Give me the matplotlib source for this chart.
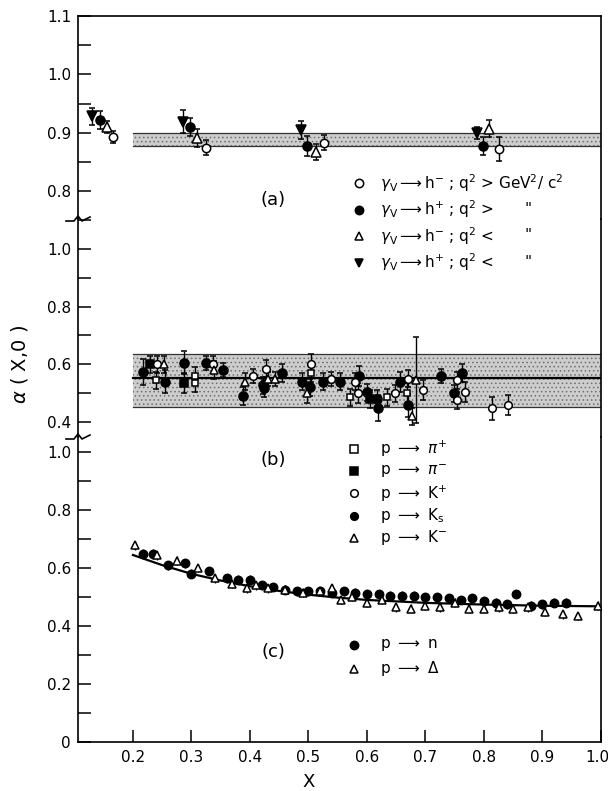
import matplotlib
matplotlib.use("Agg")
import matplotlib.pyplot as plt
from matplotlib.ticker import MultipleLocator, FuncFormatter
from matplotlib.transforms import offset_copy

plt.rcParams["font.family"] = ["DejaVu Sans"]
plt.rcParams["mathtext.fontset"] = "dejavusans"
plt.rcParams["hatch.linewidth"] = 0.6

# ---- panel (a): gamma_V -> h
a_hm_hi_x = [0.166, 0.325, 0.527, 0.826]
a_hm_hi_y = [0.893, 0.874, 0.883, 0.872]
a_hm_hi_e = [0.010, 0.013, 0.013, 0.020]
a_hp_hi_x = [0.144, 0.297, 0.497, 0.798]
a_hp_hi_y = [0.922, 0.910, 0.877, 0.877]
a_hp_hi_e = [0.016, 0.015, 0.017, 0.015]
a_hm_lo_x = [0.156, 0.309, 0.513, 0.809]
a_hm_lo_y = [0.910, 0.891, 0.867, 0.907]
a_hm_lo_e = [0.010, 0.015, 0.013, 0.014]
a_hp_lo_x = [0.130, 0.285, 0.487, 0.788]
a_hp_lo_y = [0.928, 0.919, 0.905, 0.900]
a_hp_lo_e = [0.015, 0.020, 0.015, 0.010]
a_band = (0.878, 0.900)

# ---- panel (b): p -> pi, K
b_pip_x = [0.239, 0.306, 0.306, 0.504, 0.571, 0.634, 0.668]
b_pip_y = [0.545, 0.560, 0.535, 0.570, 0.485, 0.485, 0.500]
b_pip_e = [0.030, 0.030, 0.030, 0.030, 0.030, 0.030, 0.035]
b_pim_x = [0.229, 0.287, 0.605]
b_pim_y = [0.600, 0.535, 0.480]
b_pim_e = [0.030, 0.035, 0.030]
b_kp_x = [0.241, 0.337, 0.405, 0.427, 0.504, 0.538, 0.579, 0.584, 0.648,
          0.670, 0.696, 0.754, 0.767, 0.753, 0.814, 0.841]
b_kp_y = [0.600, 0.600, 0.560, 0.585, 0.600, 0.550, 0.540, 0.500, 0.500,
          0.550, 0.510, 0.545, 0.505, 0.475, 0.447, 0.460]
b_kp_e = [0.030, 0.030, 0.025, 0.030, 0.035, 0.025, 0.030, 0.035, 0.030,
          0.030, 0.035, 0.030, 0.035, 0.030, 0.040, 0.035]
b_ks_x = [0.217, 0.255, 0.287, 0.325, 0.354, 0.388, 0.422, 0.424, 0.455,
          0.489, 0.503, 0.525, 0.554, 0.586, 0.600, 0.617, 0.619, 0.656,
          0.670, 0.727, 0.749, 0.762]
b_ks_y = [0.572, 0.540, 0.605, 0.605, 0.580, 0.490, 0.527, 0.517, 0.570,
          0.540, 0.520, 0.540, 0.540, 0.560, 0.503, 0.480, 0.450, 0.540,
          0.458, 0.560, 0.500, 0.570]
b_ks_e = [0.045, 0.040, 0.040, 0.025, 0.025, 0.030, 0.030, 0.030, 0.030,
          0.030, 0.030, 0.030, 0.030, 0.035, 0.030, 0.030, 0.045, 0.035,
          0.040, 0.025, 0.030, 0.030]
b_km_x = [0.253, 0.338, 0.391, 0.431, 0.443, 0.497, 0.684, 0.677]
b_km_y = [0.600, 0.580, 0.540, 0.550, 0.550, 0.500, 0.545, 0.420]
b_km_e = [0.030, 0.030, 0.030, 0.025, 0.025, 0.035, 0.150, 0.030]
b_band = (0.451, 0.635)
b_mean = 0.551

# ---- panel (c): p -> n, p -> Delta
c_n_x = [0.217, 0.234, 0.260, 0.289, 0.300, 0.330, 0.360, 0.380, 0.400,
         0.420, 0.440, 0.460, 0.480, 0.500, 0.520, 0.540, 0.560, 0.580,
         0.600, 0.620, 0.640, 0.660, 0.680, 0.700, 0.720, 0.740, 0.760,
         0.780, 0.800, 0.820, 0.840, 0.855, 0.880, 0.900, 0.920, 0.940]
c_n_y = [0.650, 0.650, 0.609, 0.616, 0.581, 0.590, 0.565, 0.560, 0.560,
         0.540, 0.535, 0.525, 0.520, 0.520, 0.520, 0.515, 0.520, 0.515,
         0.510, 0.510, 0.505, 0.505, 0.505, 0.500, 0.500, 0.495, 0.490,
         0.495, 0.485, 0.480, 0.475, 0.510, 0.470, 0.475, 0.480, 0.480]
c_d_x = [0.203, 0.241, 0.275, 0.311, 0.340, 0.370, 0.395, 0.410, 0.430,
         0.460, 0.490, 0.520, 0.540, 0.555, 0.575, 0.600, 0.625, 0.650,
         0.675, 0.700, 0.725, 0.750, 0.775, 0.800, 0.825, 0.850, 0.875,
         0.905, 0.935, 0.960, 0.995]
c_d_y = [0.678, 0.644, 0.626, 0.600, 0.565, 0.545, 0.530, 0.540, 0.530,
         0.525, 0.515, 0.520, 0.530, 0.490, 0.500, 0.480, 0.490, 0.465,
         0.460, 0.470, 0.465, 0.480, 0.460, 0.460, 0.465, 0.460, 0.465,
         0.450, 0.440, 0.435, 0.470]
c_err = 0.015
c_fit_x = [0.20, 0.25, 0.30, 0.35, 0.40, 0.45, 0.50, 0.55, 0.60, 0.70, 0.80, 0.90, 1.00]
c_fit_y = [0.645, 0.610, 0.580, 0.557, 0.537, 0.521, 0.508, 0.498, 0.490, 0.480, 0.474, 0.470, 0.468]

x_ticks = [0.2, 0.3, 0.4, 0.5, 0.6, 0.7, 0.8, 0.9, 1.0]

W, H = 608, 791
fig = plt.figure(figsize=(W / 100, H / 100), dpi=100)


def frame(top, bottom, left=78, right=601):
    return [left / W, 1 - bottom / H, (right - left) / W, (bottom - top) / H]


ax_a = fig.add_axes(frame(16, 219))
ax_b = fig.add_axes(frame(219, 437))
ax_c = fig.add_axes(frame(437, 742))

ax_a.set_ylim(0.752, 1.1)
ax_b.set_ylim(0.348, 1.104)
ax_c.set_ylim(0.0, 1.052)

fmt = FuncFormatter(lambda v, _: "0" if abs(v) < 1e-9 else f"{v:.1f}")
for ax, major, minor in ((ax_a, 0.1, 0.05), (ax_b, 0.2, 0.1), (ax_c, 0.2, 0.1)):
    ax.set_xlim(0.106, 1.0)
    ax.yaxis.set_major_locator(MultipleLocator(major))
    ax.yaxis.set_minor_locator(MultipleLocator(minor))
    ax.yaxis.set_major_formatter(fmt)
    ax.tick_params(axis="y", which="both", direction="in", length=9, width=1.1,
                   labelsize=11, pad=5)
    ax.tick_params(axis="x", which="both", bottom=False, labelbottom=False)
    for s in ax.spines.values():
        s.set_linewidth(1.2)
    ax.patch.set_alpha(0)

ax_a.spines["bottom"].set_visible(False)
ax_b.spines["top"].set_visible(False)
ax_b.spines["bottom"].set_visible(False)
ax_c.spines["top"].set_visible(False)
ax_c.set_xticks(x_ticks)
ax_c.xaxis.set_major_formatter(FuncFormatter(lambda v, _: f"{v:.1f}"))
ax_c.tick_params(axis="x", bottom=True, labelbottom=True, direction="in",
                 length=9, width=1.1, labelsize=11, pad=6)
# the last label sits on the figure edge in the original; pull it in a little
last = ax_c.get_xticklabels()[-1]
last.set_transform(offset_copy(last.get_transform(), fig=fig, x=-4, units="dots"))


def band(ax, lo, hi, mid=None):
    ax.fill_between([0.2, 1.0], lo, hi, facecolor="#cdcdcd", edgecolor="#6f6f6f",
                    hatch="....", linewidth=0, zorder=1)
    ax.plot([0.2, 1.0], [hi, hi], color="#333333", lw=0.9, zorder=2)
    ax.plot([0.2, 1.0], [lo, lo], color="#333333", lw=0.9, zorder=2)
    if mid is not None:
        ax.plot([0.2, 1.0], [mid, mid], color="black", lw=1.6, zorder=2)


def pts(ax, x, y, e, marker, filled, ms=6, cap=2.0):
    ax.errorbar(x, y, yerr=e, fmt=marker, ms=ms, mfc="black" if filled else "white",
                mec="black", mew=1.1, ecolor="black", elinewidth=1.0, capsize=cap,
                capthick=1.0, zorder=4)


band(ax_a, *a_band)
pts(ax_a, a_hp_lo_x, a_hp_lo_y, a_hp_lo_e, "v", True, ms=7, cap=2.5)
pts(ax_a, a_hp_hi_x, a_hp_hi_y, a_hp_hi_e, "o", True, ms=6.5, cap=2.5)
pts(ax_a, a_hm_lo_x, a_hm_lo_y, a_hm_lo_e, "^", False, ms=6.5, cap=2.5)
pts(ax_a, a_hm_hi_x, a_hm_hi_y, a_hm_hi_e, "o", False, ms=6, cap=2.5)

band(ax_b, *b_band, mid=b_mean)
pts(ax_b, b_ks_x, b_ks_y, b_ks_e, "o", True, ms=6.5)
pts(ax_b, b_pim_x, b_pim_y, b_pim_e, "s", True, ms=5.5)
pts(ax_b, b_pip_x, b_pip_y, b_pip_e, "s", False, ms=5)
pts(ax_b, b_kp_x, b_kp_y, b_kp_e, "o", False, ms=5.5)
pts(ax_b, b_km_x, b_km_y, b_km_e, "^", False, ms=5.5)

ax_c.plot(c_fit_x, c_fit_y, color="black", lw=1.6, zorder=3)
pts(ax_c, c_n_x, c_n_y, [c_err] * len(c_n_x), "o", True, ms=6, cap=0)
pts(ax_c, c_d_x, c_d_y, [c_err] * len(c_d_x), "^", False, ms=6, cap=0)

# overlay in pixel coordinates for labels, legends and axis breaks
ov = fig.add_axes([0, 0, 1, 1])
ov.set_xlim(0, W)
ov.set_ylim(H, 0)
ov.axis("off")
ov.patch.set_alpha(0)

for yb in (219, 437):
    ov.plot([66, 74, 78, 82, 90], [yb + 2, yb + 2, yb - 3, yb + 2, yb - 2],
            color="black", lw=1.2)

ov.text(20, 365, r"$\alpha$ ( X,0 )", rotation=90, ha="center", va="center", fontsize=14)
ov.text(309, 782, "X", ha="center", va="center", fontsize=13)

ov.text(273, 200, "(a)", ha="center", va="center", fontsize=13)
ov.text(273, 460, "(b)", ha="center", va="center", fontsize=13)
ov.text(273, 652, "(c)", ha="center", va="center", fontsize=13)

arrow = r"$\longrightarrow$"
legend_a = [
    ("o", False, r"$\gamma_{\mathrm{V}}$" + arrow + r"h$^{-}$ ; q$^{2}$ > GeV$^{2}$/ c$^{2}$", ""),
    ("o", True, r"$\gamma_{\mathrm{V}}$" + arrow + r"h$^{+}$ ; q$^{2}$ >", '"'),
    ("^", False, r"$\gamma_{\mathrm{V}}$" + arrow + r"h$^{-}$ ; q$^{2}$ <", '"'),
    ("v", True, r"$\gamma_{\mathrm{V}}$" + arrow + r"h$^{+}$ ; q$^{2}$ <", '"'),
]
for i, (m, filled, label, ditto) in enumerate(legend_a):
    y = 183 + i * 26.5
    ov.plot([359], [y], marker=m, ms=6, mfc="black" if filled else "white",
            mec="black", mew=1.1, ls="none")
    ov.text(380, y, label, ha="left", va="center", fontsize=11)
    if ditto:
        ov.text(528, y, ditto, ha="center", va="center", fontsize=11)

legend_b = [
    ("s", False, r"$\pi^{+}$"),
    ("s", True, r"$\pi^{-}$"),
    ("o", False, r"K$^{+}$"),
    ("o", True, r"K$_{\mathrm{s}}$"),
    ("^", False, r"K$^{-}$"),
]
for i, (m, filled, label) in enumerate(legend_b):
    y = 449 + i * 22.2
    ov.plot([354], [y], marker=m, ms=5.5, mfc="black" if filled else "white",
            mec="black", mew=1.1, ls="none")
    ov.text(380, y, "p " + arrow + " " + label, ha="left", va="center", fontsize=11)

legend_c = [("o", True, "n"), ("^", False, r"$\Delta$")]
for i, (m, filled, label) in enumerate(legend_c):
    y = 645 + i * 24
    ov.plot([354], [y], marker=m, ms=6, mfc="black" if filled else "white",
            mec="black", mew=1.1, ls="none")
    ov.text(380, y, "p " + arrow + " " + label, ha="left", va="center", fontsize=11)

fig.savefig("out.png", dpi=100)
